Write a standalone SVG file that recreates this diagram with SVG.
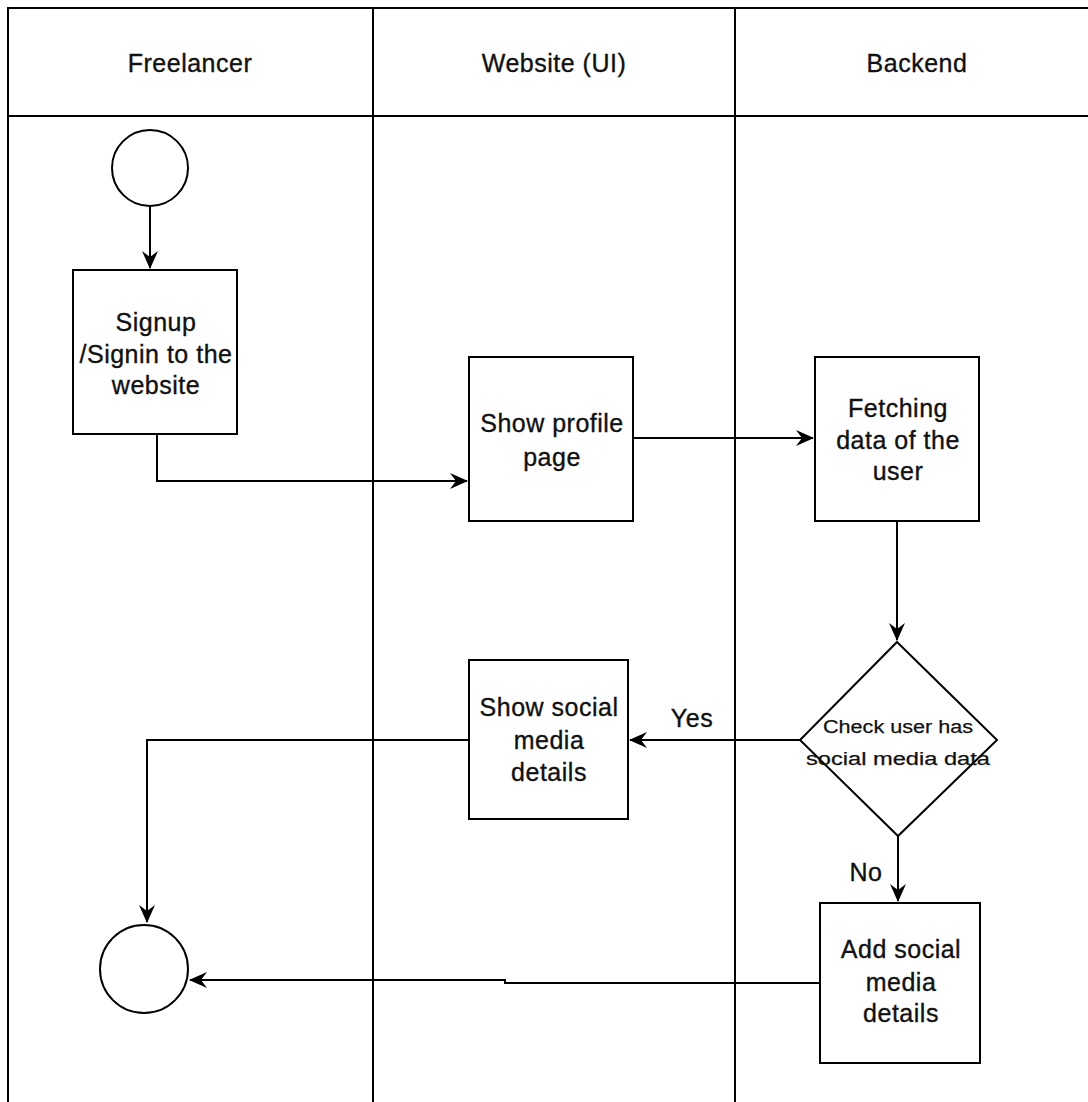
<svg xmlns="http://www.w3.org/2000/svg" width="1088" height="1102" viewBox="0 0 1088 1102">
<style>
.lane{fill:none;stroke:#000;stroke-width:2}
.shape{fill:#fff;stroke:#000;stroke-width:2}
.edge{fill:none;stroke:#000;stroke-width:2}
.t{font-family:"Liberation Sans",Arial,sans-serif;font-size:25px;letter-spacing:0.5px;fill:#111;stroke:#111;stroke-width:0.35;text-anchor:middle}
.ts{font-family:"Liberation Sans",Arial,sans-serif;font-size:18px;fill:#111;stroke:#111;stroke-width:0.25;text-anchor:middle}
</style>
<defs>
<marker id="arr" viewBox="0 0 18 16" refX="17" refY="8" markerWidth="18" markerHeight="16" markerUnits="userSpaceOnUse" orient="auto">
<path d="M0,0 L18,8 L0,16 L6,8 Z" fill="#000"/>
</marker>
</defs>
<rect width="1088" height="1102" fill="#fff"/>
<g id="lanes">
<path class="lane" d="M8,1102 V8 H1090 M8,116 H1090 M373,8 V1102 M735,8 V1102"/>
<text class="t" x="190" y="72">Freelancer</text>
<text class="t" x="554" y="72">Website (UI)</text>
<text class="t" x="917" y="72">Backend</text>
</g>
<g id="connectors">
<path class="edge" d="M150,206 V268" marker-end="url(#arr)"/>
<path class="edge" d="M157,434 V481 H467" marker-end="url(#arr)"/>
<path class="edge" d="M633,438 H813" marker-end="url(#arr)"/>
<path class="edge" d="M897,521 V640" marker-end="url(#arr)"/>
<path class="edge" d="M800,740 H630" marker-end="url(#arr)"/>
<path class="edge" d="M469,740 H147 V922" marker-end="url(#arr)"/>
<path class="edge" d="M898,836 V901" marker-end="url(#arr)"/>
<path class="edge" d="M820,983 H505 V980 H190" marker-end="url(#arr)"/>
<text class="t" x="692" y="727">Yes</text>
<text class="t" x="866" y="881">No</text>
</g>
<g id="start"><circle class="shape" cx="150" cy="168" r="38"/></g>
<g id="signup">
<rect class="shape" x="73" y="270" width="164" height="164"/>
<text class="t" x="156" y="331">Signup</text>
<text class="t" x="156" y="363">/Signin to the</text>
<text class="t" x="156" y="394">website</text>
</g>
<g id="profile">
<rect class="shape" x="469" y="357" width="164" height="164"/>
<text class="t" x="552" y="432">Show profile</text>
<text class="t" x="552" y="466">page</text>
</g>
<g id="fetch">
<rect class="shape" x="815" y="357" width="164" height="164"/>
<text class="t" x="898" y="417">Fetching</text>
<text class="t" x="898" y="449">data of the</text>
<text class="t" x="898" y="480">user</text>
</g>
<g id="check">
<path class="shape" d="M897,642 L997,740 L898,836 L800,740 Z"/>
<text class="ts" x="898" y="733" textLength="150" lengthAdjust="spacingAndGlyphs">Check user has</text>
<text class="ts" x="898" y="765" textLength="184" lengthAdjust="spacingAndGlyphs">social media data</text>
</g>
<g id="showsocial">
<rect class="shape" x="469" y="660" width="159" height="159"/>
<text class="t" x="549" y="716">Show social</text>
<text class="t" x="549" y="749">media</text>
<text class="t" x="549" y="781">details</text>
</g>
<g id="addsocial">
<rect class="shape" x="820" y="903" width="160" height="160"/>
<text class="t" x="901" y="958">Add social</text>
<text class="t" x="901" y="991">media</text>
<text class="t" x="901" y="1022">details</text>
</g>
<g id="end"><circle class="shape" cx="144" cy="969" r="44"/></g>
</svg>
